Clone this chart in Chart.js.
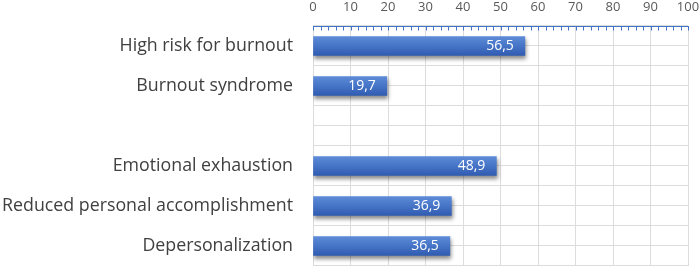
<!DOCTYPE html>
<html><head><meta charset="utf-8">
<script src="https://cdn.jsdelivr.net/npm/chart.js@4"></script>
<style>html,body{margin:0;padding:0;background:#fff}#wrap{width:700px;height:268px;position:relative}</style>
</head><body><div id="wrap"><canvas id="c"></canvas></div>
<script>
const categories = ["High risk for burnout", "Burnout syndrome", "", "Emotional exhaustion", "Reduced personal accomplishment", "Depersonalization"];
const values = [56.5, 19.7, null, 48.9, 36.9, 36.5];
const axisMin = 0, axisMax = 100, axisStep = 10, minorStep = 2;

const FONT = "'Open Sans', Lato, sans-serif";

const gridPlugin = {
  id: 'extraGrid',
  beforeDatasetsDraw(chart) {
    const ctx = chart.ctx, y = chart.scales.y, a = chart.chartArea;
    ctx.save();
    ctx.strokeStyle = '#dcdcdc'; ctx.lineWidth = 1;
    for (let i = -0.5; i <= categories.length - 0.5 + 1e-6; i += 0.5) {
      const py = Math.round(y.getPixelForValue(i)) - 0.5;
      ctx.beginPath(); ctx.moveTo(a.left, py); ctx.lineTo(a.right, py); ctx.stroke();
    }
    ctx.restore();
  },
  afterDraw(chart) {
    const ctx = chart.ctx, x = chart.scales.x, a = chart.chartArea;
    ctx.save();
    ctx.strokeStyle = '#4472c4'; ctx.lineWidth = 1;
    const top = Math.round(a.top) + 0.5;
    ctx.beginPath(); ctx.moveTo(a.left, top); ctx.lineTo(a.right + 1, top); ctx.stroke();
    for (let v = axisMin; v <= axisMax; v += minorStep) {
      const px = Math.round(x.getPixelForValue(v)) + 0.5;
      ctx.beginPath(); ctx.moveTo(px, top); ctx.lineTo(px, top + 4); ctx.stroke();
    }
    ctx.restore();
  }
};

const shadowPlugin = {
  id: 'barShadow',
  beforeDatasetDraw(chart) {
    const c = chart.ctx; c.save();
    c.shadowColor = 'rgba(0,0,0,0.45)'; c.shadowBlur = 4; c.shadowOffsetX = 1; c.shadowOffsetY = 3;
  },
  afterDatasetDraw(chart) { chart.ctx.restore(); }
};

const labelPlugin = {
  id: 'valueLabels',
  afterDatasetsDraw(chart) {
    const ctx = chart.ctx, meta = chart.getDatasetMeta(0);
    ctx.save();
    ctx.fillStyle = '#ffffff'; ctx.font = "14px " + FONT;
    ctx.textAlign = 'right'; ctx.textBaseline = 'middle';
    meta.data.forEach((el, i) => {
      if (values[i] == null) return;
      ctx.fillText(values[i].toFixed(1).replace('.', ','), el.x - 11, el.y);
    });
    ctx.restore();
  }
};

new Chart(document.getElementById('c'), {
  type: 'bar',
  data: {
    labels: categories,
    datasets: [{
      data: values,
      barThickness: 19,
      borderWidth: 0,
      backgroundColor: (ctx) => {
        const chart = ctx.chart, y = chart.scales && chart.scales.y;
        if (!y || ctx.type !== 'data' || !chart.chartArea) return '#4472c4';
        const c = y.getPixelForValue(ctx.dataIndex);
        const g = chart.ctx.createLinearGradient(0, c - 9.5, 0, c + 9.5);
        g.addColorStop(0, '#5d8bd9'); g.addColorStop(0.5, '#4674c6'); g.addColorStop(1, '#2f5cb1');
        return g;
      }
    }]
  },
  options: {
    indexAxis: 'y',
    responsive: true,
    maintainAspectRatio: false,
    animation: false,
    layout: { padding: { left: 0, right: 12, top: 0, bottom: 2 } },
    plugins: { legend: { display: false }, tooltip: { enabled: false } },
    scales: {
      x: {
        position: 'top', min: axisMin, max: axisMax,
        ticks: { stepSize: axisStep, color: '#595959', font: { family: FONT, size: 13 }, padding: 11 },
        grid: { color: '#dcdcdc', drawTicks: false },
        border: { display: false },
        afterFit(s) { s.height = 26; s.paddingLeft = 0; s.paddingRight = 0; }
      },
      y: {
        ticks: { color: '#404040', font: { family: FONT, size: 17.8 }, padding: 20 },
        grid: { display: false, drawTicks: false },
        border: { display: false },
        afterFit(s) { s.width = 313; s.paddingTop = 0; s.paddingBottom = 0; }
      }
    }
  },
  plugins: [gridPlugin, shadowPlugin, labelPlugin]
});
</script>
</body></html>
